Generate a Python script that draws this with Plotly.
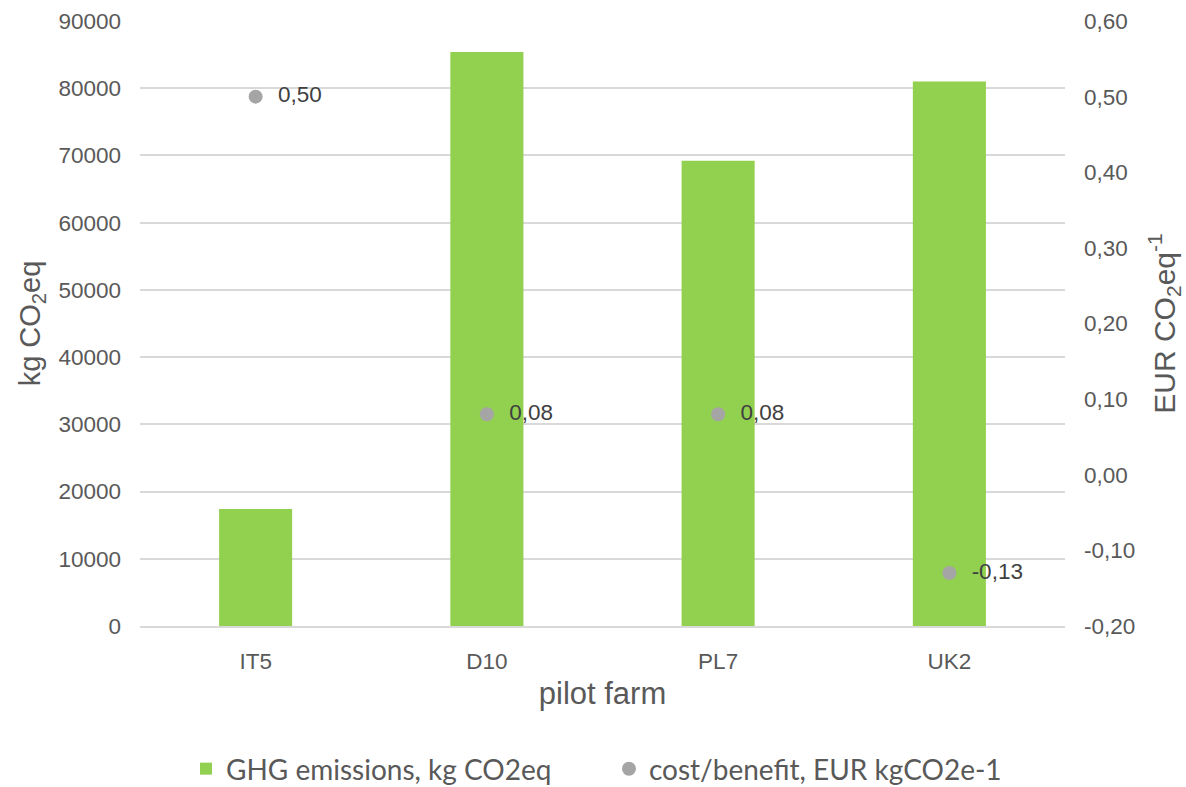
import plotly.graph_objects as go

# Pilot farms and their results
farms = ["IT5", "D10", "PL7", "UK2"]
ghg_emissions = [17400, 85400, 69200, 81000]      # kg CO2eq
cost_benefit = [0.50, 0.08, 0.08, -0.13]          # EUR per kg CO2eq

# Axis ticks
left_ticks = [0, 10000, 20000, 30000, 40000, 50000, 60000, 70000, 80000, 90000]
right_ticks = [-0.20, -0.10, 0.00, 0.10, 0.20, 0.30, 0.40, 0.50, 0.60]


def comma_decimal(v):
    return f"{v:.2f}".replace(".", ",")


right_tick_text = [comma_decimal(v) for v in right_ticks]
point_labels = ["  " + comma_decimal(v) for v in cost_benefit]

GREEN = "#92D050"
GREY = "#A5A5A5"
TEXT = "#595959"
GRID = "#D9D9D9"
FONT = "Liberation Sans, Arial, sans-serif"

fig = go.Figure()

fig.add_trace(go.Bar(
    x=farms,
    y=ghg_emissions,
    name="GHG emissions, kg CO2eq",
    marker=dict(color=GREEN, line=dict(width=0)),
    yaxis="y",
))

fig.add_trace(go.Scatter(
    x=farms,
    y=cost_benefit,
    name="cost/benefit, EUR kgCO2e-1",
    mode="markers+text",
    marker=dict(color=GREY, size=14),
    text=point_labels,
    textposition="middle right",
    textfont=dict(family=FONT, size=22.5, color="#404040"),
    yaxis="y2",
    cliponaxis=False,
))

fig.update_layout(
    width=1186,
    height=787,
    margin=dict(l=140, r=121, t=21, b=161, autoexpand=False),
    paper_bgcolor="white",
    plot_bgcolor="white",
    bargap=0.684,
    font=dict(family=FONT, color=TEXT),
    xaxis=dict(
        title=dict(text="pilot farm", font=dict(size=31, color=TEXT), standoff=10),
        tickfont=dict(size=22.5, color=TEXT),
        ticklabelstandoff=14,
        showgrid=False,
        showline=True,
        linecolor=GRID,
        linewidth=1.5,
        ticks="",
    ),
    yaxis=dict(
        title=dict(text="kg CO<sub>2</sub>eq", font=dict(size=29, color=TEXT), standoff=9),
        range=[0, 90000],
        tickvals=left_ticks,
        ticktext=[str(v) for v in left_ticks],
        tickfont=dict(size=22.5, color=TEXT),
        ticklabelstandoff=18,
        showgrid=True,
        gridcolor=GRID,
        gridwidth=1.5,
        zeroline=False,
        ticks="",
    ),
    yaxis2=dict(
        title=dict(text="EUR CO<sub>2</sub>eq<sup>-1</sup>", font=dict(size=30, color=TEXT), standoff=19),
        overlaying="y",
        side="right",
        range=[-0.20, 0.60],
        tickvals=right_ticks,
        ticktext=right_tick_text,
        tickfont=dict(size=22.5, color=TEXT),
        ticklabelstandoff=18,
        showgrid=False,
        zeroline=False,
        ticks="",
    ),
    legend=dict(
        orientation="h",
        x=0.1568,
        xanchor="left",
        xref="container",
        y=0.0229,
        yanchor="middle",
        yref="container",
        font=dict(family="Lato, Carlito, sans-serif", size=28, color=TEXT),
        itemwidth=30,
        entrywidth=378,
        traceorder="normal",
    ),
    showlegend=True,
)

fig.write_html("out.html")
